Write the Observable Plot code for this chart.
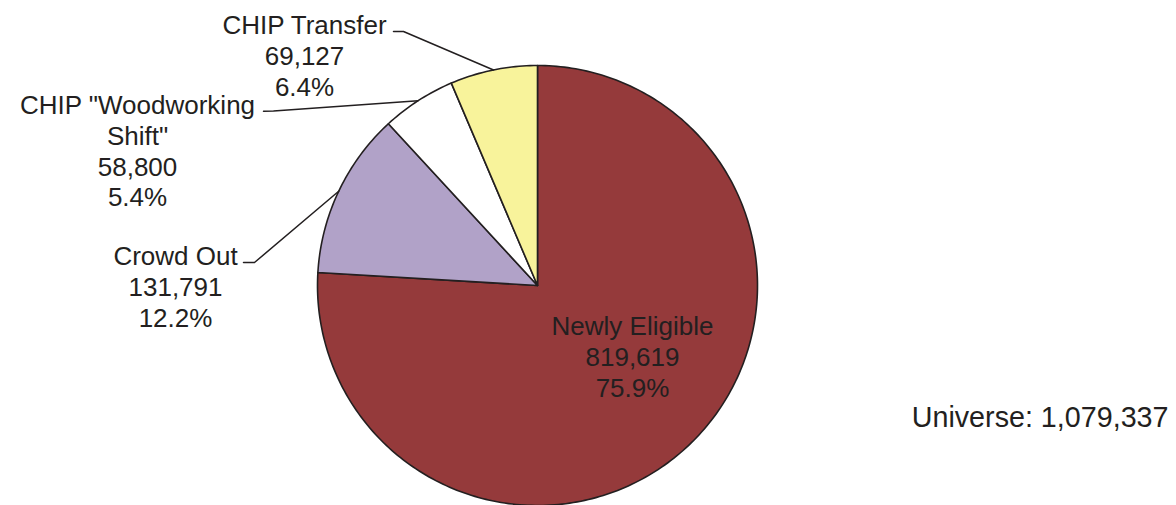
<!DOCTYPE html>
<html>
<head>
<meta charset="utf-8">
<script src="https://cdn.jsdelivr.net/npm/d3@7"></script>
<script src="https://cdn.jsdelivr.net/npm/@observablehq/plot@0.6"></script>
<style>
  html, body { margin: 0; padding: 0; background: #fff; }
  #chart svg { display: block; }
</style>
</head>
<body>
<div id="chart"></div>
<script>
// ---- data ----
const categories = ["Newly Eligible", "Crowd Out", "CHIP \"Woodworking Shift\"", "CHIP Transfer"];
const counts = [819619, 131791, 58800, 69127];
const percentLabels = ["75.9%", "12.2%", "5.4%", "6.4%"];
const nameLines = [["Newly Eligible"], ["Crowd Out"], ["CHIP \"Woodworking", "Shift\""], ["CHIP Transfer"]];
const colors = ["#953a3b", "#b1a2c8", "#ffffff", "#f8f39b"];
const universeLabel = "Universe: 1,079,337";

// ---- layout ----
const W = 1176, H = 505;
const cx = 537, cy = 285, R = 220;          // pie centre and radius in pixels
const ink = "#231f20";
const font = "Liberation Sans, Arial, Helvetica, sans-serif";
const fs = 26;
const ufs = 28.7;
// pixel -> data helpers (data unit = pie radius)
const px = (p) => (p - cx) / R;
const py = (p) => (cy - p) / R;

// label placements (pixel text centre, top of first line) and leader stubs
const labelPos = [
  {x: 632, top: 331.7 - 0.71 * fs, leader: null},
  {x: 175, top: 261.7 - 0.71 * fs, leader: [[243, 262], [254, 262]]},
  {x: 137, top: 110.7 - 0.71 * fs, leader: [[263, 110.7], [273, 110.5]]},
  {x: 304, top: 30.7 - 0.71 * fs, leader: [[393, 31], [403, 31]]}
];

const arcs = d3.pie().sort(null).value(d => d)(counts);

// slice polygons
const slicePts = [];
arcs.forEach((a, i) => {
  const cat = categories[i];
  slicePts.push({cat, x: 0, y: 0});
  const n = Math.max(8, Math.ceil((a.endAngle - a.startAngle) / (Math.PI * 2) * 360));
  for (let k = 0; k <= n; k++) {
    const t = a.startAngle + (a.endAngle - a.startAngle) * k / n;
    slicePts.push({cat, x: Math.sin(t), y: Math.cos(t)});
  }
  slicePts.push({cat, x: 0, y: 0});
});

// leader lines
const leaderPts = [];
arcs.forEach((a, i) => {
  const L = labelPos[i].leader;
  if (!L) return;
  const mid = (a.startAngle + a.endAngle) / 2;
  L.forEach(([u, v]) => leaderPts.push({cat: categories[i], x: px(u), y: py(v)}));
  leaderPts.push({cat: categories[i], x: Math.sin(mid), y: Math.cos(mid)});
});

// label table
const fmt = d3.format(",");
const labels = categories.map((c, i) => ({
  cat: c,
  x: px(labelPos[i].x),
  y: py(labelPos[i].top),
  text: [...nameLines[i], fmt(counts[i]), percentLabels[i]].join("\n")
}));

const chart = Plot.plot({
  width: W,
  height: H,
  margin: 0,
  style: {fontFamily: font, background: "#fff", overflow: "visible"},
  x: {domain: [px(0), px(W)], axis: null},
  y: {domain: [py(H), py(0)], axis: null},
  color: {domain: categories, range: colors},
  marks: [
    Plot.line(slicePts, {x: "x", y: "y", z: "cat", fill: "cat", stroke: ink, strokeWidth: 1.6, strokeLinejoin: "round", curve: "linear-closed"}),
    Plot.line(leaderPts, {x: "x", y: "y", z: "cat", stroke: ink, strokeWidth: 1.5}),
    Plot.text(labels, {x: "x", y: "y", text: "text", textAnchor: "middle", lineAnchor: "top", lineHeight: 1.175, fontSize: fs, fill: ink}),
    Plot.text([universeLabel], {x: px(1168), y: py(426 - 0.71 * ufs), text: d => d, textAnchor: "end", lineAnchor: "top", fontSize: ufs, fill: ink})
  ]
});
document.getElementById("chart").appendChild(chart);
</script>
</body>
</html>
